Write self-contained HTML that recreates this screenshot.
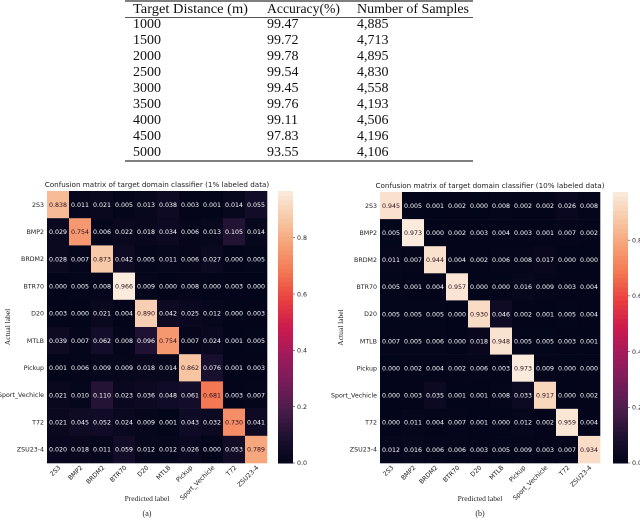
<!DOCTYPE html>
<html><head><meta charset="utf-8">
<style>
body{margin:0;background:#fff;}
svg{display:block;}
.ser{font-family:"Liberation Serif",serif;}
.san{font-family:"DejaVu Sans","Liberation Sans",sans-serif;}
</style></head>
<body>
<svg id="s" width="640" height="520" viewBox="0 0 640 520">
<g class="ser" font-size="14" fill="#111">
<line x1="125" y1="1" x2="473" y2="1" stroke="#555" stroke-width="1.5"/>
<line x1="125" y1="17.5" x2="473" y2="17.5" stroke="#555" stroke-width="1"/>
<line x1="125" y1="161" x2="473" y2="161" stroke="#555" stroke-width="1.5"/>
<text x="133" y="13" textLength="115" lengthAdjust="spacingAndGlyphs">Target Distance (m)</text>
<text x="267" y="13" textLength="73" lengthAdjust="spacingAndGlyphs">Accuracy(%)</text>
<text x="357" y="13" textLength="112" lengthAdjust="spacingAndGlyphs">Number of Samples</text>
<g id="rows"></g>
</g>
<g id="m1"></g>
<g id="m2"></g>
</svg>
<script>
const tDist=["1000","1500","2000","2500","3000","3500","4000","4500","5000"];
const tAcc=["99.47","99.72","99.78","99.54","99.45","99.76","99.11","97.83","93.55"];
const tNum=["4,885","4,713","4,895","4,830","4,558","4,193","4,506","4,196","4,106"];
const labels=["2S3","BMP2","BRDM2","BTR70","D20","MTLB","Pickup","Sport_Vechicle","T72","ZSU23-4"];
const cmA=[
[0.838,0.011,0.021,0.005,0.013,0.038,0.003,0.001,0.014,0.055],
[0.029,0.754,0.006,0.022,0.018,0.034,0.006,0.013,0.105,0.014],
[0.028,0.007,0.873,0.042,0.005,0.011,0.006,0.027,0.000,0.005],
[0.000,0.005,0.008,0.966,0.009,0.000,0.008,0.000,0.003,0.000],
[0.003,0.000,0.021,0.004,0.890,0.042,0.025,0.012,0.000,0.003],
[0.039,0.007,0.062,0.008,0.096,0.754,0.007,0.024,0.001,0.005],
[0.001,0.006,0.009,0.009,0.018,0.014,0.862,0.076,0.001,0.003],
[0.021,0.010,0.110,0.023,0.036,0.048,0.061,0.681,0.003,0.007],
[0.021,0.045,0.052,0.024,0.009,0.001,0.043,0.032,0.730,0.041],
[0.020,0.018,0.011,0.059,0.012,0.012,0.026,0.000,0.053,0.789]];
const cmB=[
[0.945,0.005,0.001,0.002,0.000,0.008,0.002,0.002,0.026,0.008],
[0.005,0.973,0.000,0.002,0.003,0.004,0.003,0.001,0.007,0.002],
[0.011,0.007,0.944,0.004,0.002,0.006,0.008,0.017,0.000,0.000],
[0.005,0.001,0.004,0.957,0.000,0.000,0.016,0.009,0.003,0.004],
[0.005,0.005,0.005,0.000,0.930,0.046,0.002,0.001,0.005,0.004],
[0.007,0.005,0.006,0.000,0.018,0.948,0.005,0.005,0.003,0.001],
[0.000,0.002,0.004,0.002,0.006,0.003,0.973,0.009,0.000,0.000],
[0.000,0.003,0.035,0.001,0.001,0.008,0.033,0.917,0.000,0.002],
[0.000,0.011,0.004,0.007,0.001,0.000,0.012,0.002,0.959,0.004],
[0.012,0.016,0.006,0.006,0.003,0.005,0.009,0.003,0.007,0.934]];
const cbTicks=[0,0.2,0.4,0.6,0.8];
const NS="http://www.w3.org/2000/svg";
function mk(tag,attrs,parent,txt){const e=document.createElementNS(NS,tag);for(const k in attrs)e.setAttribute(k,attrs[k]);if(txt!==undefined)e.textContent=txt;parent.appendChild(e);return e;}
const rows=document.getElementById('rows');
tDist.forEach((d,i)=>{const y=28+i*16;
 let t=mk('text',{x:133,y:y},rows,d);
 t=mk('text',{x:267,y:y},rows,tAcc[i]);
 t=mk('text',{x:357,y:y},rows,tNum[i]);
});
const stops=[[0,[3,5,26]],[0.1,[30,17,50]],[0.2,[76,29,75]],[0.3,[120,28,89]],[0.4,[161,26,91]],[0.5,[203,27,79]],[0.6,[232,63,63]],[0.7,[243,118,81]],[0.8,[246,160,118]],[0.9,[247,200,166]],[1,[250,235,221]]];
function col(t){t=Math.max(0,Math.min(1,t));for(let i=1;i<stops.length;i++){if(t<=stops[i][0]){const a=stops[i-1],b=stops[i];const f=(t-a[0])/(b[0]-a[0]);const c=a[1].map((v,k)=>Math.round(v+(b[1][k]-v)*f));return `rgb(${c})`;}}return 'rgb(250,235,221)';}
function matrix(gid,data,x0,y0,w,h,cbx,title,sub){
 const g=document.getElementById(gid);
 
 
 let vmax=0;data.forEach(r=>r.forEach(v=>{if(v>vmax)vmax=v;}));
 const cw=w/10,ch=h/10;
 const tt=mk('text',{x:x0+w/2,y:y0-4,'text-anchor':'middle','font-size':7.2,fill:'#222',class:'san'},g,title);
 
 data.forEach((r,i)=>r.forEach((v,j)=>{
  const t=v/vmax;
  const c=mk('rect',{x:x0+j*cw,y:y0+i*ch,width:cw+0.3,height:ch+0.3,fill:col(t)},g);
  
  const tx=mk('text',{x:x0+j*cw+cw/2,y:y0+i*ch+ch/2+2.3,'text-anchor':'middle','font-size':6.3,fill:t>0.5?'#2a1020':'#fff',class:'san'},g,v.toFixed(3));
  
 }));
 labels.forEach((l,i)=>{
  const yl=mk('text',{x:x0-3,y:y0+i*ch+ch/2+2.2,'text-anchor':'end','font-size':6.3,fill:'#222',class:'san'},g,l);
  
  const cx=x0+i*cw+cw/2+3,cy=y0+h+5;
  const xl=mk('text',{x:cx,y:cy,'text-anchor':'end','font-size':6.3,fill:'#222',class:'san',transform:`rotate(-45 ${cx} ${cy})`},g,l);
  
 });
 const al=mk('text',{x:0,y:0,'text-anchor':'middle','font-size':7.5,fill:'#222',class:'ser',transform:`translate(${x0-37},${y0+h/2}) rotate(-90)`},g,'Actual label');
 
 const pl=mk('text',{x:x0+w/2-10,y:y0+h+38,'text-anchor':'middle','font-size':7.5,fill:'#222',class:'ser'},g,'Predicted label');
 
 const sl=mk('text',{x:x0+w/2-10,y:y0+h+53,'text-anchor':'middle','font-size':8,fill:'#222',class:'ser'},g,sub);
 
 const N=60;
 for(let k=0;k<N;k++){const r=mk('rect',{x:cbx,y:y0+h-(k+1)*h/N,width:15,height:h/N+0.5,fill:col((k+0.5)/N)},g);
  }
 cbTicks.forEach(v=>{const y=y0+h-v/vmax*h;
  mk('line',{x1:cbx+15,y1:y,x2:cbx+17,y2:y,stroke:'#333','stroke-width':0.6},g);
  const t=mk('text',{x:cbx+19,y:y+2.2,'font-size':6.3,fill:'#222',class:'san'},g,v.toFixed(1));
  });
}
matrix('m1',cmA,47,191,220,272,278,'Confusion matrix of target domain classifier (1% labeled data)','(a)');
matrix('m2',cmB,380,192,220,271,613,'Confusion matrix of target domain classifier (10% labeled data)','(b)');
</script>
</body></html>
